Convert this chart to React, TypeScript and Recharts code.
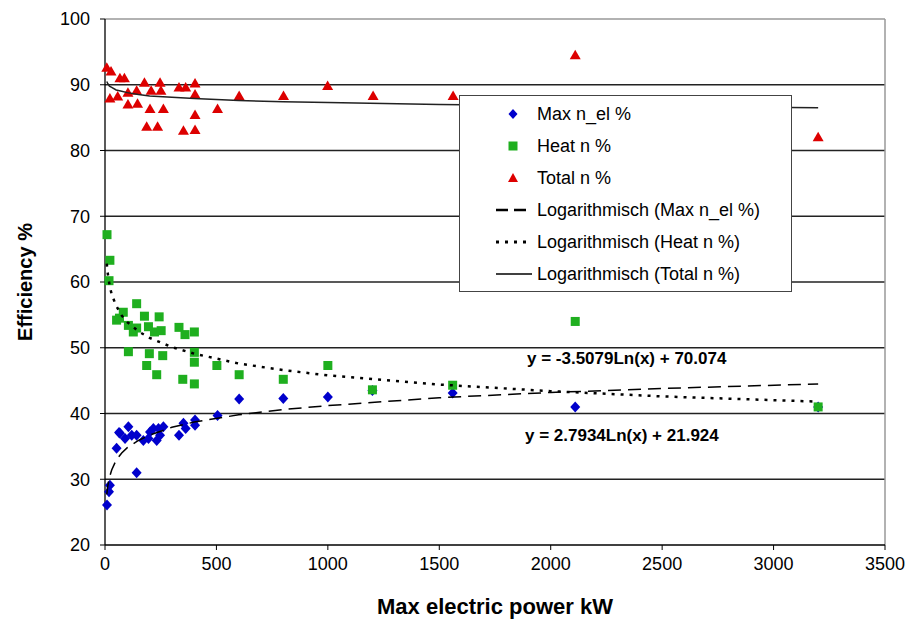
import React from 'react'
import {
  ScatterChart, Scatter, XAxis, YAxis, CartesianGrid, ReferenceLine, Label,
} from 'recharts'

// ── Data ─────────────────────────────────────────────────────────────────────

const elPower = [9, 18, 22, 52, 63, 67, 90, 105, 120, 142, 142, 172, 195, 202, 217, 232, 240, 247, 262, 332, 352, 362, 404, 404, 505, 602, 800, 1000, 1200, 1560, 2110, 3200]
const elEff = [26.1, 28.1, 29.1, 34.7, 37.1, 37.0, 36.2, 38.0, 36.7, 36.7, 31.0, 35.9, 36.2, 37.2, 37.7, 35.9, 37.7, 36.7, 38.0, 36.7, 38.5, 37.7, 39.0, 38.2, 39.7, 42.2, 42.3, 42.5, 43.5, 43.1, 41.0, 41.0]

const heatPower = [9, 18, 22, 52, 65, 82, 105, 105, 127, 142, 142, 177, 187, 195, 199, 222, 232, 243, 252, 259, 332, 349, 359, 401, 401, 401, 401, 502, 602, 800, 1000, 1200, 1560, 2110, 3200]
const heatEff = [67.2, 60.2, 63.3, 54.2, 54.5, 55.4, 53.4, 49.4, 52.4, 56.7, 53.0, 54.8, 47.3, 53.2, 49.1, 52.4, 45.9, 54.7, 52.6, 48.8, 53.1, 45.2, 52.0, 52.4, 49.3, 47.8, 44.5, 47.3, 45.9, 45.2, 47.3, 43.6, 44.3, 54.0, 41.0]

const totalPower = [8, 22, 27, 57, 67, 87, 103, 103, 142, 146, 177, 187, 202, 207, 236, 247, 251, 262, 332, 352, 362, 404, 404, 404, 404, 505, 602, 801, 999, 1203, 1562, 2110, 3200]
const totalEff = [92.6, 87.9, 92.0, 88.2, 91.0, 91.0, 88.8, 87.0, 89.1, 87.1, 90.3, 83.6, 86.3, 89.1, 83.6, 90.3, 89.1, 86.3, 89.6, 83.0, 89.6, 90.2, 88.5, 85.4, 83.1, 86.3, 88.3, 88.3, 89.8, 88.3, 88.3, 94.5, 82.0]

// trend lines (logarithmic fits as drawn)
const trendPower = [8, 12, 20, 30, 50, 75, 100, 150, 200, 300, 400, 600, 800, 1000, 1500, 2000, 2500, 3200]
const elTrend = [27.7, 28.9, 30.3, 31.4, 32.9, 34.0, 34.8, 35.9, 36.7, 37.9, 38.7, 39.8, 40.6, 41.2, 42.4, 43.2, 43.8, 44.5]
const heatTrend = [62.8, 61.4, 59.6, 58.1, 56.4, 54.9, 53.9, 52.5, 51.5, 50.1, 49.1, 47.6, 46.6, 45.8, 44.4, 43.4, 42.6, 41.8]
const totalTrend = [90.5, 90.2, 89.8, 89.6, 89.2, 89.0, 88.8, 88.5, 88.3, 88.1, 87.9, 87.6, 87.4, 87.3, 87.0, 86.8, 86.7, 86.5]

const xTicks = [0, 500, 1000, 1500, 2000, 2500, 3000, 3500]
const yTicks = [20, 30, 40, 50, 60, 70, 80, 90, 100]
const gridValues = [30, 40, 50, 60, 70, 80, 90]

const pairs = (xs: number[], ys: number[]) => xs.map((x, i) => ({ x, y: ys[i] }))

const elData = pairs(elPower, elEff)
const heatData = pairs(heatPower, heatEff)
const totalData = pairs(totalPower, totalEff)
const elLine = pairs(trendPower, elTrend)
const heatLine = pairs(trendPower, heatTrend)
const totalLine = pairs(trendPower, totalTrend)

// ── Styles ───────────────────────────────────────────────────────────────────

const FONT = '"Liberation Sans", Arial, sans-serif'
const BLUE = '#0000CC'
const GREEN = '#1FAF1F'
const RED = '#DD0000'

const Diamond = (p: any) => (
  <polygon points={`${p.cx},${p.cy - 5.5} ${p.cx + 5},${p.cy} ${p.cx},${p.cy + 5.5} ${p.cx - 5},${p.cy}`} fill={BLUE} />
)
const Square = (p: any) => <rect x={p.cx - 4.5} y={p.cy - 4.5} width={9} height={9} fill={GREEN} />
const Triangle = (p: any) => (
  <polygon points={`${p.cx},${p.cy - 5.5} ${p.cx + 5.5},${p.cy + 4} ${p.cx - 5.5},${p.cy + 4}`} fill={RED} />
)
const NoDot = () => <g />

const tick = { fill: '#000', fontSize: 18, fontFamily: FONT }

const legendRows: { label: string; kind: string }[] = [
  { label: 'Max n_el %', kind: 'diamond' },
  { label: 'Heat n %', kind: 'square' },
  { label: 'Total n %', kind: 'triangle' },
  { label: 'Logarithmisch (Max n_el %)', kind: 'dash' },
  { label: 'Logarithmisch (Heat n %)', kind: 'dot' },
  { label: 'Logarithmisch (Total n %)', kind: 'solid' },
]

function LegendSymbol({ kind }: { kind: string }) {
  return (
    <svg width={40} height={14} style={{ display: 'block' }}>
      {kind === 'diamond' && <polygon points="20,2 24.5,7 20,12 15.5,7" fill={BLUE} />}
      {kind === 'square' && <rect x={15.5} y={2.5} width={9} height={9} fill={GREEN} />}
      {kind === 'triangle' && <polygon points="20,2 25,11 15,11" fill={RED} />}
      {kind === 'dash' && <line x1={3} y1={7} x2={39} y2={7} stroke="#000" strokeWidth={2.5} strokeDasharray="12 6" />}
      {kind === 'dot' && <line x1={3} y1={7} x2={39} y2={7} stroke="#000" strokeWidth={3} strokeDasharray="3 6" />}
      {kind === 'solid' && <line x1={3} y1={7} x2={39} y2={7} stroke="#000" strokeWidth={1.5} />}
    </svg>
  )
}

export default function App() {
  return (
    <div style={{ position: 'absolute', left: 0, top: 0, width: 921, height: 619, background: '#fff', fontFamily: FONT }}>
      <ScatterChart width={921} height={619} margin={{ top: 19, right: 36, bottom: 0, left: 45 }}>
        <CartesianGrid horizontal vertical={false} horizontalValues={gridValues} stroke="#222" strokeWidth={1.3} />
        <ReferenceLine y={100} stroke="#999" strokeWidth={1.5} />
        <ReferenceLine x={3500} stroke="#999" strokeWidth={1.5} />
        <XAxis
          type="number" dataKey="x" domain={[0, 3500]} ticks={xTicks} height={74}
          tick={tick} tickSize={5} tickMargin={7} axisLine={{ stroke: '#000', strokeWidth: 1.3 }}
          tickLine={{ stroke: '#000' }}
        >
          <Label value="Max electric power kW" position="insideBottom" offset={5}
            style={{ fontSize: 22, fontWeight: 700, fill: '#000', fontFamily: FONT }} />
        </XAxis>
        <YAxis
          type="number" dataKey="y" domain={[20, 100]} ticks={yTicks} width={60}
          tick={tick} tickSize={5} tickMargin={10} axisLine={{ stroke: '#000', strokeWidth: 1.3 }}
          tickLine={{ stroke: '#000' }}
        >
          <Label value="Efficiency %" angle={-90} position="insideLeft" offset={-20}
            style={{ fontSize: 20, fontWeight: 700, fill: '#000', fontFamily: FONT, textAnchor: 'middle' }} />
        </YAxis>

        <Scatter data={elData} shape={Diamond} isAnimationActive={false} />
        <Scatter data={heatData} shape={Square} isAnimationActive={false} />
        <Scatter data={totalData} shape={Triangle} isAnimationActive={false} />

        <Scatter data={elLine} shape={NoDot} line={{ stroke: '#000', strokeWidth: 1.5, strokeDasharray: '13 7' }} lineType="joint" isAnimationActive={false} />
        <Scatter data={heatLine} shape={NoDot} line={{ stroke: '#000', strokeWidth: 2.5, strokeDasharray: '3 6' }} lineType="joint" isAnimationActive={false} />
        <Scatter data={totalLine} shape={NoDot} line={{ stroke: '#222', strokeWidth: 1.5 }} lineType="joint" isAnimationActive={false} />
      </ScatterChart>

      {/* legend box */}
      <div style={{
        position: 'absolute', left: 459, top: 95, width: 333, height: 197, boxSizing: 'border-box',
        border: '1.5px solid #444', background: '#fff', paddingTop: 2,
      }}>
        {legendRows.map(r => (
          <div key={r.label} style={{ display: 'flex', alignItems: 'center', height: 32 }}>
            <div style={{ marginLeft: 33 }}><LegendSymbol kind={r.kind} /></div>
            <span style={{ fontSize: 18, color: '#000', marginLeft: 4 }}>{r.label}</span>
          </div>
        ))}
      </div>

      {/* trend equations */}
      <div style={{ position: 'absolute', left: 527, top: 349, fontSize: 17, fontWeight: 700, color: '#000', whiteSpace: 'nowrap' }}>
        y = -3.5079Ln(x) + 70.074
      </div>
      <div style={{ position: 'absolute', left: 525, top: 426, fontSize: 17, fontWeight: 700, color: '#000', whiteSpace: 'nowrap' }}>
        y = 2.7934Ln(x) + 21.924
      </div>
    </div>
  )
}
